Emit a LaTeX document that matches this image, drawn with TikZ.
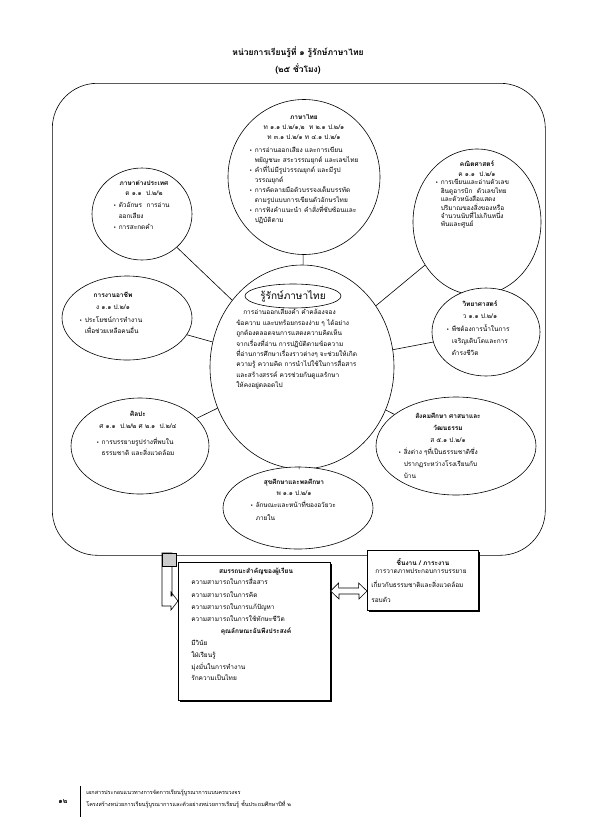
\documentclass[tikz,border=0pt]{standalone}
\usepackage{fontspec}
\newfontfamily\thaifont[Script=Thai]{Loma}
\newfontfamily\symfont{DejaVu Sans}
\usetikzlibrary{shapes.geometric,shadows}
\newcommand{\bl}{{\symfont\fontsize{5}{5}\selectfont •}\hspace{2.5pt}}
\newcommand{\hg}{\hphantom{\bl}}
\begin{document}
\begin{tikzpicture}
[x=1pt, y=-1pt, line width=0.6pt,
font=\thaifont\fontsize{6.5}{10}\selectfont,
subject/.style={ellipse, draw, fill=white, inner sep=0pt},
head/.style={align=center, inner sep=0pt, anchor=north},
body/.style={align=left, inner sep=0pt, anchor=north west},
box/.style={rectangle, draw, fill=white, inner sep=0pt, anchor=north west,
  drop shadow={shadow xshift=1.5pt, shadow yshift=-1.5pt, fill=black, opacity=1}}]

\useasboundingbox[fill=white] (0,0) rectangle (595,836);

\node[font=\thaifont\bfseries\fontsize{8.5}{17}\selectfont, align=center] (title) at (298,61)
  {หน่วยการเรียนรู้ที่ ๑ รู้รักษ์ภาษาไทย\\(๒๕ ชั่วโมง)};

\node[draw, rounded corners=45pt, minimum width=493pt, minimum height=472pt, anchor=north west] (frame) at (52,83) {};

% core first, subjects round it
\node[subject, minimum width=184pt, minimum height=204pt] (core) at (302,367) {};
\node[subject, minimum width=152pt, minimum height=155pt] (thai) at (304,177) {};
\node[subject, minimum width=128pt, minimum height=146pt] (math) at (477,222) {};
\node[subject, minimum width=100pt, minimum height=92pt] (foreign) at (142,214) {};
\node[subject, minimum width=130pt, minimum height=84pt] (career) at (127,318) {};
\node[subject, minimum width=108pt, minimum height=88pt] (science) at (486,332) {};
\node[subject, minimum width=160pt, minimum height=98pt] (social) at (456,446) {};
\node[subject, minimum width=138pt, minimum height=96pt] (art) at (140,446) {};
\node[subject, minimum width=150pt, minimum height=82pt] (health) at (298,508) {};

\draw (core) -- (thai);
\draw (core) -- (math);
\draw (core) -- (foreign);
\draw (core) -- (career);
\draw (core) -- (science);
\draw (core) -- (social);
\draw (core) -- (art);
\draw (core) -- (health);

\node[subject, minimum width=96pt, minimum height=24pt, font=\thaifont\fontsize{10}{12}\selectfont] (coretitle) at (293,296) {รู้รักษ์ภาษาไทย};
\node[body, font=\thaifont\fontsize{6.5}{10.4}\selectfont] (coretext) at (236,309)
  {\hspace{7pt}การอ่านออกเสียงคำ คำคล้องจอง\\
   ข้อความ และบทร้อยกรองง่าย ๆ ได้อย่าง\\
   ถูกต้องตลอดจนการแสดงความคิดเห็น\\
   จากเรื่องที่อ่าน การปฏิบัติตามข้อความ\\
   ที่อ่านการศึกษาเรื่องราวต่างๆ จะช่วยให้เกิด\\
   ความรู้ ความคิด การนำไปใช้ในการสื่อสาร\\
   และสร้างสรรค์ ควรช่วยกันดูแลรักษา\\
   ให้คงอยู่ตลอดไป};

\node[head] (thaihead) at (304,114)
  {{\bfseries ภาษาไทย}\\ ท ๑.๑ ป.๒/๑,๒ \ ท ๒.๑ ป.๒/๑\\ ท ๓.๑ ป.๒/๑ ท ๔.๑ ป.๒/๑};
\node[body] (thaitext) at (249,147)
  {\bl การอ่านออกเสียง และการเขียน\\
   \hg พยัญชนะ สระวรรณยุกต์ และเลขไทย\\
   \bl คำที่ไม่มีรูปวรรณยุกต์ และมีรูป\\
   \hg วรรณยุกต์\\
   \bl การคัดลายมือตัวบรรจงเต็มบรรทัด\\
   \hg ตามรูปแบบการเขียนตัวอักษรไทย\\
   \bl การฟังคำแนะนำ คำสั่งที่ซับซ้อนและ\\
   \hg ปฏิบัติตาม};

\node[head] (mathhead) at (477,160) {{\bfseries คณิตศาสตร์}\\ ค ๑.๑ \ ป.๒/๑};
\node[body, font=\thaifont\fontsize{6.5}{8.4}\selectfont] (mathtext) at (435,179)
  {\bl การเขียนและอ่านตัวเลข\\
   \hg ฮินดูอารบิก \ ตัวเลขไทย\\
   \hg และตัวหนังสือแสดง\\
   \hg ปริมาณของสิ่งของหรือ\\
   \hg จำนวนนับที่ไม่เกินหนึ่ง\\
   \hg พันและศูนย์};

\node[head] (foreignhead) at (144,180) {{\bfseries ภาษาต่างประเทศ}\\ ต ๑.๑ \ ป.๒/๒};
\node[body, font=\thaifont\fontsize{6.5}{11}\selectfont] (foreigntext) at (113,202)
  {\bl ตัวอักษร \ การอ่าน\\ \hg ออกเสียง\\ \bl การสะกดคำ};

\node[head, font=\thaifont\fontsize{6.5}{12}\selectfont] (careerhead) at (113,292) {{\bfseries การงานอาชีพ}\\ ง ๑.๑ ป.๒/๑};
\node[body, font=\thaifont\fontsize{6.5}{11}\selectfont] (careertext) at (79,316)
  {\bl ประโยชน์การทำงาน\\ \hg เพื่อช่วยเหลือคนอื่น};

\node[head, font=\thaifont\fontsize{6.5}{12}\selectfont] (sciencehead) at (480,300) {{\bfseries วิทยาศาสตร์}\\ ว ๑.๑ ป.๒/๑};
\node[body, font=\thaifont\fontsize{6.5}{12}\selectfont] (sciencetext) at (446,324)
  {\bl พืชต้องการน้ำในการ\\ \hg เจริญเติบโตและการ\\ \hg ดำรงชีวิต};

\node[head, font=\thaifont\fontsize{6.5}{12}\selectfont] (socialhead) at (448,413)
  {{\bfseries สังคมศึกษา ศาสนาและ}\\ {\bfseries วัฒนธรรม}\\ ส ๕.๑ ป.๒/๑};
\node[body, font=\thaifont\fontsize{6.5}{12}\selectfont] (socialtext) at (398,448)
  {\bl สิ่งต่าง ๆที่เป็นธรรมชาติซึ่ง\\ \hg ปรากฏระหว่างโรงเรียนกับ\\ \hg บ้าน};

\node[head, font=\thaifont\fontsize{6.5}{12}\selectfont] (arthead) at (138,411) {{\bfseries ศิลปะ}\\ ศ ๑.๑ \ ป.๒/๒ ศ ๒.๑ \ ป.๒/๔};
\node[body, font=\thaifont\fontsize{6.5}{11}\selectfont] (arttext) at (96,438)
  {\bl การบรรยายรูปร่างที่พบใน\\ \hg ธรรมชาติ และสิ่งแวดล้อม};

\node[head, font=\thaifont\fontsize{6.5}{11}\selectfont] (healthhead) at (294,479) {{\bfseries สุขศึกษาและพลศึกษา}\\ พ ๑.๑ ป.๒/๑};
\node[body, font=\thaifont\fontsize{6.5}{13}\selectfont] (healthtext) at (250,501)
  {\bl ลักษณะและหน้าที่ของอวัยวะ\\ \hg ภายใน};

% arrow from the frame down to the competences
\filldraw[fill=white] (162,553) -- (172,553) -- (172,596) -- (171,596) -- (171,592) -- (178,601)
  -- (171,610) -- (171,606) -- (162,606) -- cycle;
\filldraw[fill=gray!40] (162,553) rectangle (176,566);

\node[box, minimum width=152pt, minimum height=138pt] (comp) at (178,562) {};
\node[head, font=\thaifont\bfseries\fontsize{6.5}{10}\selectfont] (comphead) at (256,568) {สมรรถนะสำคัญของผู้เรียน};
\node[body, font=\thaifont\fontsize{6.5}{12.3}\selectfont] (comptext) at (191,578)
  {ความสามารถในการสื่อสาร\\ ความสามารถในการคิด\\ ความสามารถในการแก้ปัญหา\\ ความสามารถในการใช้ทักษะชีวิต};
\node[head, font=\thaifont\bfseries\fontsize{6.5}{10}\selectfont] (traithead) at (256,627) {คุณลักษณะอันพึงประสงค์};
\node[body, font=\thaifont\fontsize{6.5}{11.7}\selectfont] (traittext) at (191,640)
  {มีวินัย\\ ใฝ่เรียนรู้\\ มุ่งมั่นในการทำงาน\\ รักความเป็นไทย};

\node[box, minimum width=111pt, minimum height=60pt] (task) at (367,550) {};
\node[head, font=\thaifont\bfseries\fontsize{6.5}{10}\selectfont] (taskhead) at (423,558) {ชิ้นงาน / ภาระงาน};
\node[body, font=\thaifont\fontsize{6.5}{14.5}\selectfont] (tasktext) at (371,568)
  {\hspace{4pt}การวาดภาพประกอบการบรรยาย\\ เกี่ยวกับธรรมชาติและสิ่งแวดล้อม\\ รอบตัว};

\filldraw[fill=white] (comp.east |- 0,591) -- ++(8,-8) -- ++(0,5) -- ++(20,0) -- ++(0,-5) -- (task.west |- 0,591)
  -- ++(-8,8) -- ++(0,-5) -- ++(-20,0) -- ++(0,5) -- cycle;

% footer
\node[font=\thaifont\bfseries\fontsize{7}{8}\selectfont] (page) at (63,802) {๑๒};
\draw (80,786) -- (80,817);
\node[body, font=\thaifont\fontsize{5.5}{12}\selectfont] (foot) at (86,790)
  {เอกสารประกอบแนวทางการจัดการเรียนรู้บูรณาการแบบครบวงจร\\
   โครงสร้างหน่วยการเรียนรู้บูรณาการและตัวอย่างหน่วยการเรียนรู้ ชั้นประถมศึกษาปีที่ ๒};
\end{tikzpicture}
\end{document}
